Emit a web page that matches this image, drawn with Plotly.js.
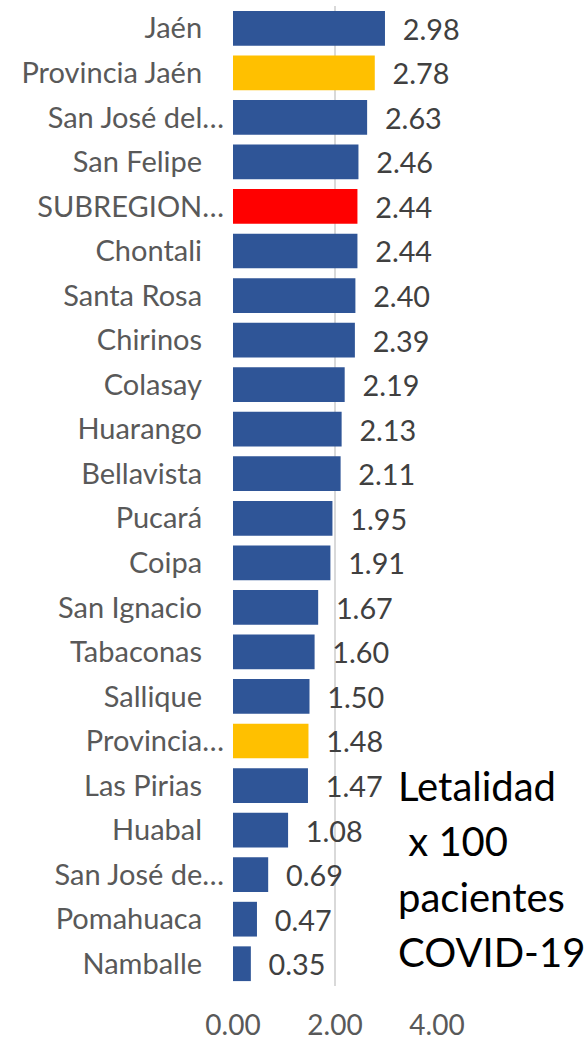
<!DOCTYPE html>
<html>
<head>
<meta charset="utf-8">
<script src="https://cdn.plot.ly/plotly-3.0.1.min.js"></script>
<style>
  html, body { margin: 0; padding: 0; background: #fff; }
  #chart { width: 587px; height: 1040px; }
</style>
</head>
<body>
<div id="chart"></div>
<script>
'use strict';

// districts (top to bottom)
var districts = [
    'Jaén', 'Provincia Jaén', 'San José del…', 'San Felipe', 'SUBREGION…',
    'Chontali', 'Santa Rosa', 'Chirinos', 'Colasay', 'Huarango',
    'Bellavista', 'Pucará', 'Coipa', 'San Ignacio', 'Tabaconas',
    'Sallique', 'Provincia…', 'Las Pirias', 'Huabal', 'San José de…',
    'Pomahuaca', 'Namballe'
];

// letalidad x 100 pacientes COVID-19
var letalidad = [
    2.98, 2.78, 2.63, 2.46, 2.44,
    2.44, 2.40, 2.39, 2.19, 2.13,
    2.11, 1.95, 1.91, 1.67, 1.60,
    1.50, 1.48, 1.47, 1.08, 0.69,
    0.47, 0.35
];

// bar colour group: d = district, p = province, s = subregion
var groups = [
    'd', 'p', 'd', 'd', 's',
    'd', 'd', 'd', 'd', 'd',
    'd', 'd', 'd', 'd', 'd',
    'd', 'p', 'd', 'd', 'd',
    'd', 'd'
];

var tickVals = [0, 2, 4];
var tickText = ['0.00', '2.00', '4.00'];

// caption beside the chart, one entry per line
var captionLines = ['Letalidad', '\u00a0x 100', 'pacientes', 'COVID-19'];

var groupColors = {d: '#2F5597', p: '#FFC000', s: '#FF0000'};
var font = 'Lato, "Open Sans", sans-serif';

// Excel sets truncated names closer to the axis than full ones
var catLabels = districts.map(function (n) {
    return n.slice(-1) === '…' ? n : n + '\u2002\u00a0';
});

var trace = {
    type: 'bar',
    orientation: 'h',
    x: letalidad,
    y: districts,
    marker: {color: groups.map(function (g) { return groupColors[g]; })},
    width: 0.78,
    text: letalidad.map(function (v) { return '\u00a0\u00a0' + v.toFixed(2); }),
    textposition: 'outside',
    textfont: {family: font, size: 29, color: '#404040'},
    cliponaxis: false,
    hoverinfo: 'x+y'
};

var captionAnnotations = captionLines.map(function (line, i) {
    return {
        xref: 'paper', yref: 'paper',
        x: 0.80, y: 0.204 - i * 0.0565,
        xanchor: 'left', yanchor: 'middle',
        align: 'left',
        showarrow: false,
        text: line,
        font: {family: font, size: 40, color: '#000'}
    };
});

var layout = {
    width: 587,
    height: 1040,
    margin: {l: 233, r: 150, t: 6, b: 54},
    paper_bgcolor: '#fff',
    plot_bgcolor: '#fff',
    showlegend: false,
    font: {family: font, color: '#595959'},
    xaxis: {
        range: [0, 4],
        tickvals: tickVals,
        ticktext: tickText,
        showgrid: true,
        gridcolor: '#d9d9d9',
        gridwidth: 1.5,
        zeroline: false,
        showline: false,
        ticks: '',
        ticklabelstandoff: 20,
        tickfont: {family: font, size: 28, color: '#595959'}
    },
    yaxis: {
        autorange: 'reversed',
        tickvals: districts,
        ticktext: catLabels,
        showgrid: false,
        zeroline: false,
        showline: false,
        ticks: '',
        ticklabelstandoff: 8,
        tickfont: {family: font, size: 29, color: '#595959'}
    },
    annotations: captionAnnotations
};

Plotly.newPlot('chart', [trace], layout, {displayModeBar: false, staticPlot: true});
</script>
</body>
</html>
